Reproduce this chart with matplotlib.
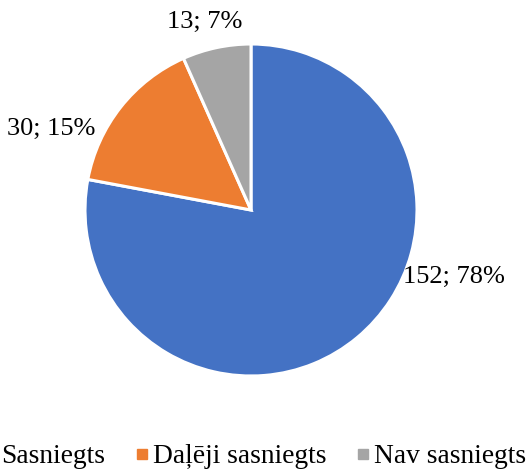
import matplotlib
matplotlib.use("Agg")
import matplotlib.pyplot as plt
from matplotlib.lines import Line2D

categories = ["Sasniegts", "Daļēji sasniegts", "Nav sasniegts"]
values = [152, 30, 13]
percents = [78, 15, 7]
colors = ["#4472C4", "#ED7D31", "#A5A5A5"]

plt.rcParams['font.family'] = ['Liberation Serif', 'DejaVu Serif']

W, H = 526, 470
fig = plt.figure(figsize=(W / 100, H / 100), dpi=100)
ax = fig.add_axes([0, 0, 1, 1])
ax.set_xlim(0, W)
ax.set_ylim(0, H)
ax.set_aspect('equal')
ax.axis('off')

cx, cy, r = 251, H - 210, 166
wedges, _ = ax.pie(values, colors=colors, startangle=90, counterclock=False,
                   center=(cx, cy), radius=r,
                   wedgeprops=dict(edgecolor='white', linewidth=2.2))
ax.set_xlim(0, W)
ax.set_ylim(0, H)

label_pos = [(454, H - 277), (51, H - 129), (205, H - 22)]
for v, p, (x, y) in zip(values, percents, label_pos):
    ax.text(x, y, f"{v}; {p}%", ha='center', va='center', fontsize=19, color='#000000')

handles = [Line2D([0], [0], marker='s', linestyle='none', markersize=6.5,
                  markerfacecolor=c, markeredgecolor=c) for c in colors]
fig.legend(handles, categories, loc='center', ncol=3, frameon=False,
           bbox_to_anchor=(256 / W, (H - 456.5) / H), fontsize=19.8,
           handlelength=0.33, handletextpad=0.22, columnspacing=1.18,
           borderpad=0, borderaxespad=0)

fig.savefig("out.png", dpi=100)
